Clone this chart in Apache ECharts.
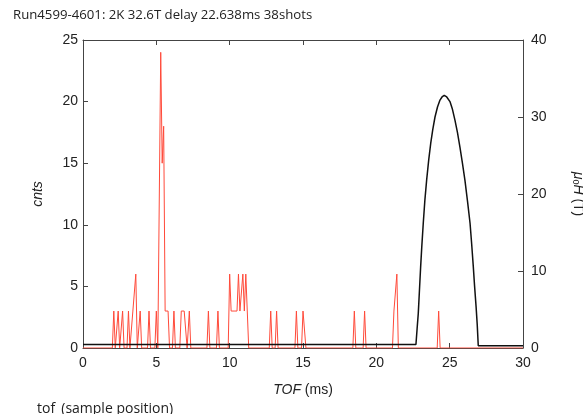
<!DOCTYPE html>
<html>
<head>
<meta charset="utf-8">
<script src="https://cdn.jsdelivr.net/npm/echarts@6/dist/echarts.min.js"></script>
<style>
  html, body { margin: 0; padding: 0; background: #fff; }
  #main { width: 583px; height: 414px; }
</style>
</head>
<body>
<div id="main"></div>
<script>
// red histogram: non-zero bins (TOF ms -> counts), bins 0.1 ms wide
var cntTof = [2.1, 2.4, 2.7, 3.1, 3.4, 3.5, 3.6, 3.9, 4.5, 5.0,
  5.3, 5.4, 5.5, 5.6, 5.7, 5.8, 6.2, 6.7, 6.8, 6.9, 7.0, 7.25,
  8.55, 9.2, 10.0, 10.1, 10.2, 10.3, 10.4, 10.5, 10.6, 10.7, 10.8, 10.9, 11.0, 11.1, 11.2,
  12.8, 13.2, 14.55, 15.0, 15.1, 18.5, 19.2, 21.2, 21.3, 21.4, 24.25];
var cntVal = [3, 3, 3, 3, 3, 3, 6, 3, 3, 3,
  24, 15, 18, 3, 3, 3, 3, 3, 3, 3, 3, 3,
  3, 3, 6, 3, 3, 3, 3, 3, 6, 3, 3, 6, 3, 6, 6,
  3, 3, 3, 3, 3, 3, 3, 3, 3, 6, 3];

// black field pulse (TOF ms -> mu0H in T), right axis
var fieldTof = [0, 22.70, 22.78, 22.86, 22.94, 23.02, 23.10, 23.20, 23.31, 23.43, 23.57,
  23.71, 23.85, 24.00, 24.17, 24.34, 24.48, 24.63, 24.80, 25.02, 25.19, 25.36,
  25.53, 25.70, 25.87, 26.04, 26.22, 26.39, 26.50, 26.61, 26.70, 26.80, 26.88,
  26.95, 30];
var fieldVal = [0.45, 0.45, 2.5, 4.5, 7.5, 10.5, 13.2, 16.2, 19.2, 21.8, 24.4,
  26.6, 28.4, 30.0, 31.3, 32.2, 32.6, 32.8, 32.6, 32.0, 31.0, 29.6,
  28.0, 26.1, 24.0, 21.8, 19.0, 16.2, 13.5, 10.6, 8.0, 5.4, 3.0,
  0.3, 0.3];

var xTicks = [0, 5, 10, 15, 20, 25, 30];
var cntTicks = [0, 5, 10, 15, 20, 25];
var fieldTicks = [0, 10, 20, 30, 40];

// histogram line: empty bins are zero
var redData = [[0, 0]];
for (var i = 0; i < cntTof.length; i++) {
  var t = cntTof[i];
  if (i == 0 || t - cntTof[i - 1] > 0.16) redData.push([t - 0.1, 0]);
  redData.push([t, cntVal[i]]);
  if (i == cntTof.length - 1 || cntTof[i + 1] - t > 0.16) redData.push([t + 0.1, 0]);
}
redData.push([30, 0]);

var blackData = [];
for (var j = 0; j < fieldTof.length; j++) {
  blackData.push([fieldTof[j], fieldVal[j]]);
}

var axisCol = '#444';
var labelFont = 'Liberation Sans';
var chart = echarts.init(document.getElementById('main'));
chart.setOption({
  animation: false,
  title: {
    text: 'Run4599-4601: 2K 32.6T delay 22.638ms 38shots',
    left: 8, top: 4,
    textStyle: { fontFamily: 'Open Sans', fontSize: 13.2, fontWeight: 'normal', color: '#222' }
  },
  graphic: [{
    type: 'text', left: 37, top: 402,
    style: { text: 'tof_(sample position)', font: '14px "Open Sans"', fill: '#222' }
  }],
  grid: { left: 83, right: 60, top: 40, bottom: 66, outerBoundsMode: 'none', containLabel: false },
  xAxis: [{
    type: 'value', min: 0, max: 30, interval: 5,
    name: '{i|TOF} (ms)', nameLocation: 'middle', nameGap: 35,
    nameTextStyle: { fontFamily: labelFont, fontSize: 14, color: '#222',
      rich: { i: { fontStyle: 'italic', fontFamily: labelFont, fontSize: 14, color: '#222' } } },
    axisLine: { onZero: false, lineStyle: { color: axisCol } },
    axisTick: { inside: true, length: 5, lineStyle: { color: axisCol } },
    axisLabel: { fontFamily: labelFont, fontSize: 14, color: '#222', margin: 8,
      customValues: xTicks },
    splitLine: { show: false }
  }, {
    type: 'value', min: 0, max: 30, interval: 5, position: 'top',
    axisLine: { onZero: false, lineStyle: { color: axisCol } },
    axisTick: { inside: true, length: 5, lineStyle: { color: axisCol } },
    axisLabel: { show: false },
    splitLine: { show: false }
  }],
  yAxis: [{
    type: 'value', min: 0, max: 25, interval: 5,
    name: 'cnts', nameLocation: 'middle', nameGap: 38, nameRotate: 90,
    nameTextStyle: { fontFamily: labelFont, fontSize: 14, fontStyle: 'italic', color: '#222' },
    axisLine: { show: true, onZero: false, lineStyle: { color: axisCol } },
    axisTick: { show: true, inside: true, length: 5, lineStyle: { color: axisCol } },
    axisLabel: { fontFamily: labelFont, fontSize: 14, color: '#222', margin: 5,
      customValues: cntTicks },
    splitLine: { show: false }
  }, {
    type: 'value', min: 0, max: 40, interval: 10, position: 'right',
    name: '{i|μ}{s|0}{i|H} (T)', nameLocation: 'middle', nameGap: 48, nameRotate: -90,
    nameTextStyle: { fontFamily: labelFont, fontSize: 14, color: '#222',
      rich: {
        i: { fontStyle: 'italic', fontFamily: labelFont, fontSize: 14, color: '#222' },
        s: { fontFamily: labelFont, fontSize: 9, color: '#222', verticalAlign: 'bottom' }
      } },
    axisLine: { show: true, onZero: false, lineStyle: { color: axisCol } },
    axisTick: { show: true, inside: true, length: 5, lineStyle: { color: axisCol } },
    axisLabel: { fontFamily: labelFont, fontSize: 14, color: '#222', margin: 8,
      customValues: fieldTicks },
    splitLine: { show: false }
  }],
  series: [{
    name: 'cnts', type: 'line', xAxisIndex: 0, yAxisIndex: 0,
    data: redData, showSymbol: false, symbol: 'none',
    lineStyle: { color: '#ff4a3a', width: 1 }
  }, {
    name: 'field', type: 'line', xAxisIndex: 0, yAxisIndex: 1,
    data: blackData, showSymbol: false, symbol: 'none',
    lineStyle: { color: '#111', width: 1.5 }
  }]
});
</script>
</body>
</html>
